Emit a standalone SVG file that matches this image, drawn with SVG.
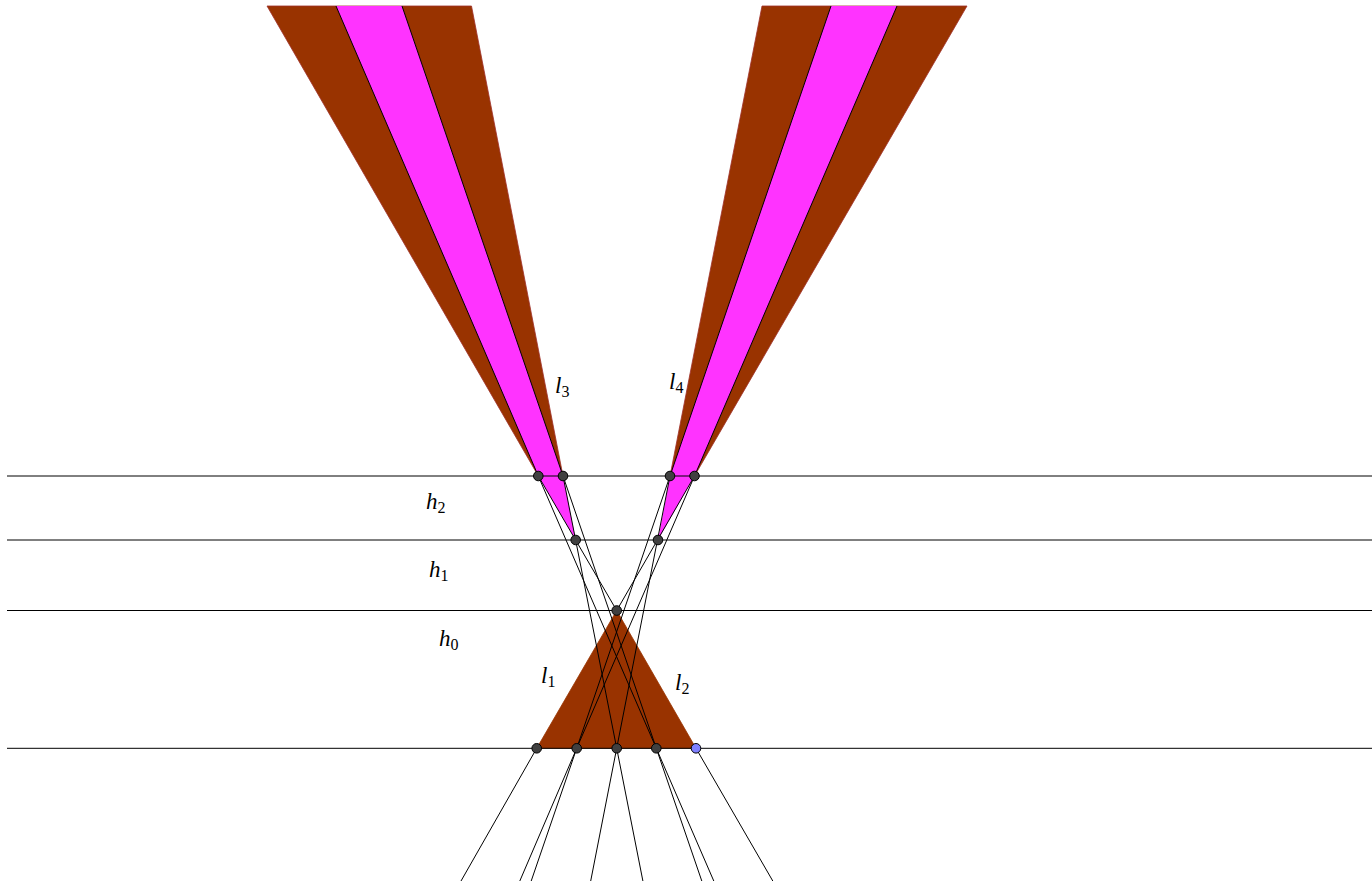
<svg xmlns="http://www.w3.org/2000/svg" width="1372" height="881" viewBox="0 0 1372 881">
<style>
.brown{fill:#993300;stroke:#a0302a;stroke-width:0.8}
.mag{fill:#ff33ff;stroke:none}
.ln{stroke:#000;stroke-width:1;fill:none}
.hl{stroke:#000;stroke-width:1;fill:none}
.pt{fill:#404040;stroke:#000;stroke-width:1}
.ptb{fill:#7f7fff;stroke:#000;stroke-width:1}
.lbl{font-family:"Liberation Serif","DejaVu Serif",serif;font-style:italic;font-size:23px;fill:#000}
.sub{font-size:16px;font-style:normal}
</style>
<rect width="1372" height="881" fill="#fff"/>
<g id="regions">
  <polygon id="leftFanBrown" class="brown" points="267,6 471.5,6 563,476 538.3,476"/>
  <polygon id="leftFanMagenta" class="mag" points="336,6 402,6 563,476 538.3,476"/>
  <polygon id="leftTriMagenta" class="mag" points="538.3,476 563,476 575.7,540"/>
  <polygon id="rightFanBrown" class="brown" points="762,6 967,6 694.5,476 670,476"/>
  <polygon id="rightFanMagenta" class="mag" points="831,6 897,6 694.5,476 670,476"/>
  <polygon id="rightTriMagenta" class="mag" points="670,476 694.5,476 658,540"/>
  <polygon id="baseTriangle" fill="#993300" stroke="#993300" stroke-width="0.8" points="536.7,748.3 696,748.3 616.7,610.5"/>
</g>
<g id="horizontals">
  <line class="hl" x1="7" y1="476" x2="1372" y2="476"/>
  <line class="hl" x1="7" y1="540" x2="1372" y2="540"/>
  <line class="hl" x1="7" y1="610.5" x2="1372" y2="610.5"/>
  <line class="hl" x1="7" y1="748.3" x2="1372" y2="748.3"/>
</g>
<g id="connectors">
  <polyline class="ln" points="336,6 538.3,476 656.3,748.3 713.8,881"/>
  <polyline class="ln" points="402,6 563,476 656.3,748.3 701.8,881"/>
  <polyline class="ln" points="831,6 670,476 576.7,748.3 531.2,881"/>
  <polyline class="ln" points="897,6 694.5,476 576.7,748.3 519.8,881"/>
  <line class="ln" x1="538.3" y1="476" x2="616.7" y2="610.5"/>
  <line class="ln" x1="696" y1="748.3" x2="772.8" y2="881"/>
  <line class="ln" x1="694.5" y1="476" x2="616.7" y2="610.5"/>
  <line class="ln" x1="536.7" y1="748.3" x2="461" y2="881"/>
  <line class="ln" x1="563" y1="476" x2="642.9" y2="881"/>
  <line class="ln" x1="670" y1="476" x2="590.7" y2="881"/>
</g>
<g id="points">
  <circle id="R1" class="pt" cx="538.3" cy="476" r="4.8"/>
  <circle id="R2" class="pt" cx="563" cy="476" r="4.8"/>
  <circle id="R3" class="pt" cx="670" cy="476" r="4.8"/>
  <circle id="R4" class="pt" cx="694.5" cy="476" r="4.8"/>
  <circle id="Q1" class="pt" cx="575.7" cy="540" r="4.8"/>
  <circle id="Q2" class="pt" cx="658" cy="540" r="4.8"/>
  <circle id="P" class="pt" cx="616.7" cy="610.5" r="4.8"/>
  <circle id="A" class="pt" cx="536.7" cy="748.3" r="4.8"/>
  <circle id="B" class="pt" cx="576.7" cy="748.3" r="4.8"/>
  <circle id="C" class="pt" cx="616.7" cy="748.3" r="4.8"/>
  <circle id="D" class="pt" cx="656.3" cy="748.3" r="4.8"/>
  <circle id="E" class="ptb" cx="696" cy="748.3" r="4.8"/>
</g>
<g id="labels">
  <text id="lab-l3" class="lbl" x="555" y="393">l<tspan class="sub" dy="4">3</tspan></text>
  <text id="lab-l4" class="lbl" x="669" y="389">l<tspan class="sub" dy="4">4</tspan></text>
  <text id="lab-h2" class="lbl" x="426" y="509">h<tspan class="sub" dy="4">2</tspan></text>
  <text id="lab-h1" class="lbl" x="429" y="577">h<tspan class="sub" dy="4">1</tspan></text>
  <text id="lab-h0" class="lbl" x="439" y="646">h<tspan class="sub" dy="4">0</tspan></text>
  <text id="lab-l1" class="lbl" x="541" y="683">l<tspan class="sub" dy="4">1</tspan></text>
  <text id="lab-l2" class="lbl" x="675" y="690">l<tspan class="sub" dy="4">2</tspan></text>
</g>
</svg>
